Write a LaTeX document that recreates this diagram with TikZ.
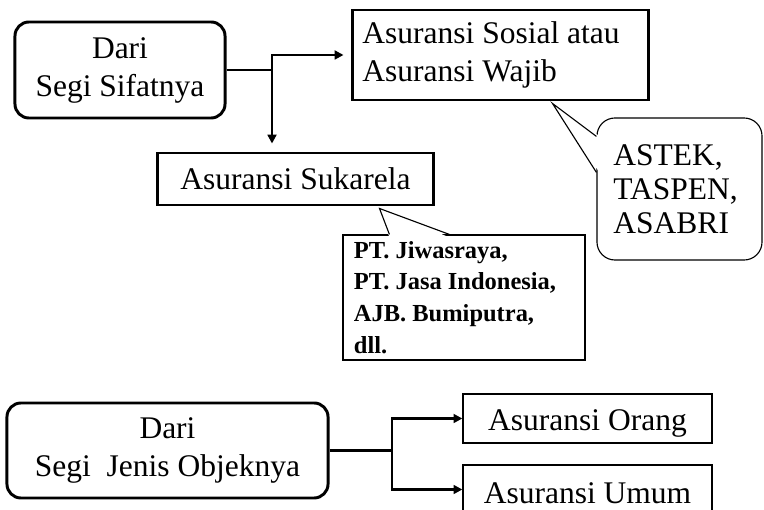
\documentclass[tikz,border=0pt]{standalone}
\usepackage{fontspec}
\setmainfont{Liberation Serif}
\usetikzlibrary{arrows.meta, positioning, calc}
\frenchspacing

\begin{document}
\begin{tikzpicture}[x=0.025cm, y=-0.025cm,
    mainbox/.style={rectangle, draw, line width=2.1pt, align=center, inner sep=0pt, font=\fontsize{22.4pt}{27pt}\selectfont},
    roundbox/.style={mainbox, rounded corners=0.35cm},
    thinbox/.style={rectangle, draw, line width=0.9pt, inner sep=0pt, minimum width=6.225cm, font=\fontsize{22.4pt}{26pt}\selectfont},
    note/.style={rectangle, draw, line width=0.8pt, align=flush left, inner sep=0pt},
    conn/.style={-{Triangle[length=0.22cm, width=0.22cm]}, line width=2.1pt},
    tail/.style={line width=0.8pt}
]
    \useasboundingbox (0,0) rectangle (764,510);
    \clip (0,0) rectangle (764,510);

    % Dari segi sifatnya
    \node[roundbox, minimum width=5.25cm, minimum height=2.4cm] (sifat) at (120,70) {Dari\\Segi Sifatnya};
    \node[mainbox, minimum width=7.375cm, minimum height=2.25cm, text width=6.9cm, align=flush left] (wajib) at (500.5,55) {Asuransi Sosial atau\\Asuransi Wajib};
    \node[mainbox, minimum width=6.875cm, minimum height=1.3cm] (sukarela) at (295.5,179) {Asuransi Sukarela};
    \node[note, rounded corners=0.45cm, minimum width=4.125cm, minimum height=3.55cm, text width=3.3cm, font=\fontsize{22.4pt}{24pt}\selectfont] (astek) at (679.5,189) {ASTEK,\\TASPEN,\\ASABRI};
    \node[note, minimum width=6.05cm, minimum height=3.125cm, text width=5.5cm, font=\bfseries\fontsize{17.4pt}{22.5pt}\selectfont] (swasta) at (464,297.5) {PT. Jiwasraya,\\PT. Jasa Indonesia,\\AJB. Bumiputra,\\dll.};

    \coordinate (j1) at (272,70);
    \draw[conn] (sifat.east) -- (j1) |- ([xshift=-0.2cm]wajib.west);
    \draw[conn] (j1) -- ([yshift=0.2cm]j1 |- sukarela.north);

    % callout tails
    \coordinate (t1) at ($(wajib.south)+(52,2)$);
    \coordinate (t2) at ($(sukarela.south)+(84,2)$);
    \fill[white] ($(astek.north west)+(3,19)$) -- (t1) -- ($(astek.north west)+(3,55)$) -- cycle;
    \draw[tail] ($(astek.north west)+(0,19)$) -- (t1) -- ($(astek.north west)+(0,55)$);
    \fill[white] ($(swasta.north west)+(47,3)$) -- (t2) -- ($(swasta.north west)+(107,3)$) -- cycle;
    \draw[tail] ($(swasta.north west)+(47,0)$) -- (t2) -- ($(swasta.north west)+(107,0)$);

    % Dari segi jenis objeknya
    \node[roundbox, minimum width=8.025cm, minimum height=2.375cm] (jenis) at (167.5,450.5) {Dari\\Segi~ Jenis Objeknya};
    \node[thinbox, text height=0.9cm, text depth=0.325cm] (orang) at (587.5,418.5) {Asuransi Orang};
    \node[thinbox, text height=0.95cm, text depth=0.275cm] (umum) at (587.5,489.5) {Asuransi Umum};

    \coordinate (j2) at (392,450.5);
    \draw[conn] (jenis.east) -- (j2) |- (orang.west);
    \draw[conn] (j2) |- (umum.west);
\end{tikzpicture}
\end{document}
